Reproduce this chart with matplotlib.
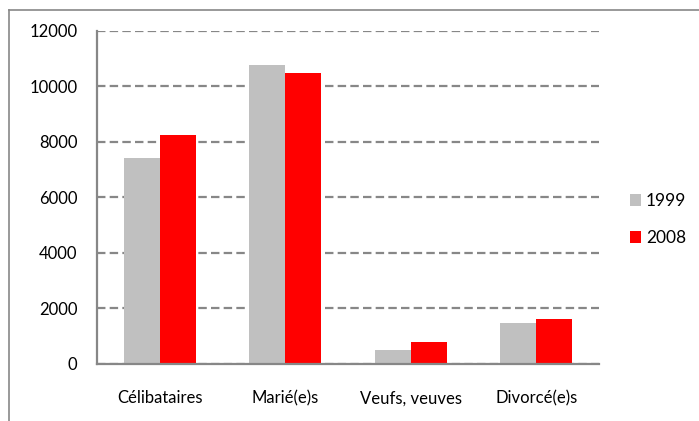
import matplotlib
matplotlib.use('Agg')
import matplotlib.pyplot as plt
from matplotlib.lines import Line2D
import numpy as np

plt.rcParams['font.family'] = ['Lato', 'DejaVu Sans']

# data
categories = ['Célibataires', 'Marié(e)s', 'Veufs, veuves', 'Divorcé(e)s']
years = ['1999', '2008']
values_1999 = [7420, 10760, 520, 1480]
values_2008 = [8260, 10500, 790, 1620]
yticks = [0, 2000, 4000, 6000, 8000, 10000, 12000]

grey = '#c0c0c0'
red = '#ff0000'
line_col = '#878787'

fig = plt.figure(figsize=(6.99, 4.21), dpi=100)
ax = fig.add_axes([0.1388, 0.1354, 0.718, 0.791])

x = np.arange(len(categories))
w = 0.286
ax.bar(x - w / 2, values_1999, w, color=grey, label=years[0], zorder=3)
ax.bar(x + w / 2, values_2008, w, color=red, label=years[1], zorder=3)

ax.set_xlim(-0.5, len(categories) - 0.5)
ax.set_ylim(0, 12000)
ax.set_yticks(yticks)
ax.set_yticklabels([str(t) for t in yticks], fontsize=12)
ax.set_xticks(x)
ax.set_xticklabels(categories, fontsize=12)
ax.tick_params(axis='both', length=0, colors='black')
ax.tick_params(axis='x', pad=19)
ax.tick_params(axis='y', pad=14)

ax.yaxis.grid(True, color=line_col, linewidth=1.6, linestyle=(0, (3.8, 1.9)), zorder=0)
ax.set_axisbelow(True)
for side in ['top', 'right']:
    ax.spines[side].set_visible(False)
for side in ['left', 'bottom']:
    ax.spines[side].set_color(line_col)
    ax.spines[side].set_linewidth(1.6)
    ax.spines[side].set_zorder(4)

leg = ax.legend(loc='center left', bbox_to_anchor=(1.03, 0.434), frameon=False,
                fontsize=12.5, handlelength=0.65, handleheight=0.65,
                handletextpad=0.3, labelspacing=1.2)

# outer chart frame (cut off at right and bottom)
fig.add_artist(Line2D([9 / 699, 9 / 699], [0, 1 - 10 / 421], transform=fig.transFigure,
                      color=line_col, linewidth=1.2))
fig.add_artist(Line2D([9 / 699, 1], [1 - 10 / 421, 1 - 10 / 421], transform=fig.transFigure,
                      color=line_col, linewidth=1.2))

fig.savefig('out.png', dpi=100)
